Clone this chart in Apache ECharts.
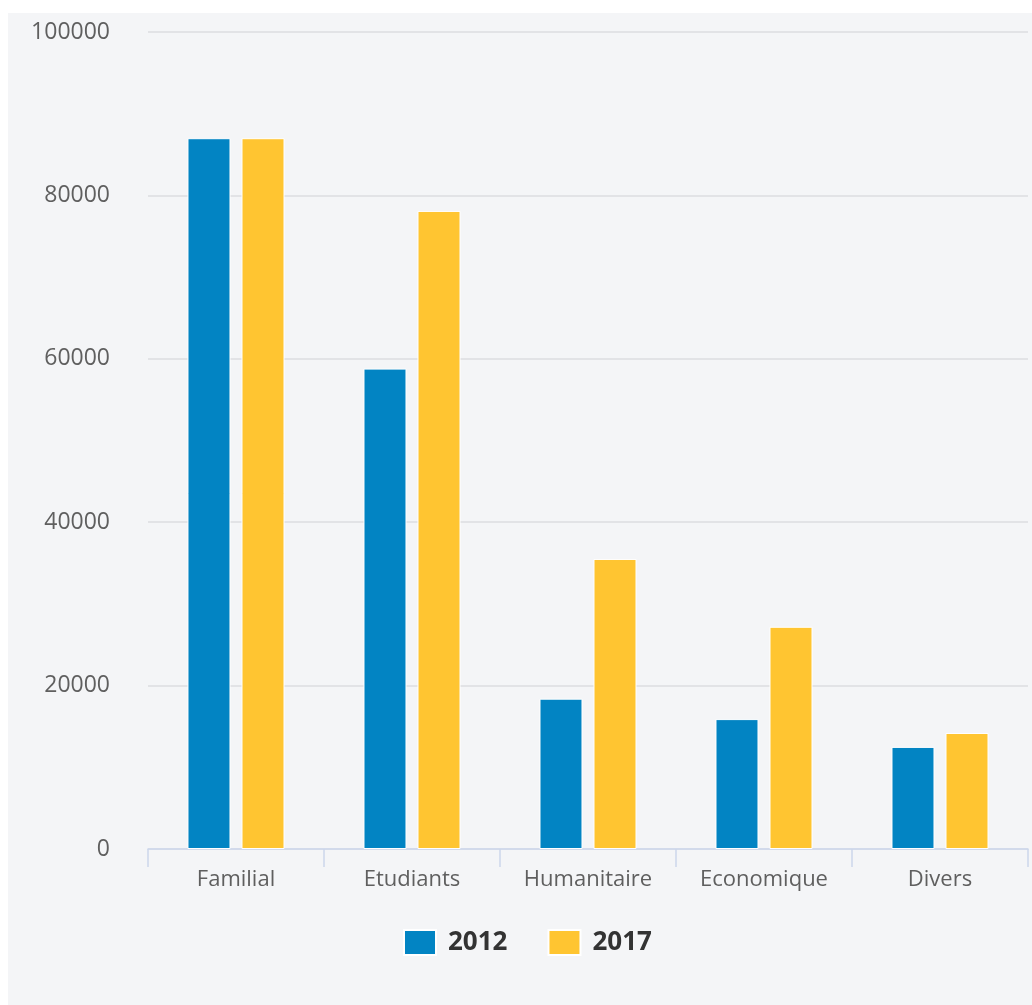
<!DOCTYPE html>
<html>
<head>
<meta charset="utf-8">
<script src="https://cdn.jsdelivr.net/npm/echarts@6/dist/echarts.min.js"></script>
<style>
html,body{margin:0;padding:0;background:#ffffff;}
#panel{position:absolute;left:8px;top:13px;width:1024px;height:992px;background:#f4f5f7;}
#chart{position:absolute;left:0;top:0;width:1032px;height:1005px;}
</style>
</head>
<body>
<div id="panel"></div>
<div id="chart"></div>
<script>
const categories = ['Familial', 'Etudiants', 'Humanitaire', 'Economique', 'Divers'];
const series2012 = [87000, 58800, 18400, 15900, 12500];
const series2017 = [87000, 78100, 35500, 27200, 14200];
const yTicks = { min: 0, max: 100000, interval: 20000 };

const chart = echarts.init(document.getElementById('chart'), null, { renderer: 'canvas' });
const font = '"Open Sans", "DejaVu Sans", sans-serif';
chart.setOption({
  backgroundColor: 'transparent',
  animation: false,
  grid: { left: 148, right: 4, top: 32, bottom: 156, containLabel: false },
  legend: {
    data: ['2012', '2017'],
    top: 929,
    left: 403,
    padding: 0,
    icon: 'rect',
    itemWidth: 32,
    itemHeight: 25,
    itemGap: 40,
    textStyle: { fontFamily: font, fontSize: 26, fontWeight: 'bold', color: '#333333', padding: [0, 0, 0, 7] }
  },
  xAxis: {
    type: 'category',
    data: categories,
    axisLine: { lineStyle: { color: '#ccd6eb', width: 1.5 } },
    axisTick: { show: true, length: 18, lineStyle: { color: '#ccd6eb', width: 1.5 }, alignWithLabel: false },
    axisLabel: { fontFamily: font, fontSize: 22, color: '#5f5f5f', margin: 20 },
    splitLine: { show: false }
  },
  yAxis: {
    type: 'value',
    min: yTicks.min,
    max: yTicks.max,
    interval: yTicks.interval,
    axisLine: { show: false },
    axisTick: { show: false },
    axisLabel: { fontFamily: font, fontSize: 23, color: '#5f5f5f', margin: 38, formatter: v => String(v) },
    splitLine: { lineStyle: { color: '#dcdde0', width: 1.5 } }
  },
  series: [
    {
      name: '2012', type: 'bar', data: series2012,
      barWidth: 43, barGap: '25.6%',
      itemStyle: { color: '#0284c3', borderColor: '#ffffff', borderWidth: 1 }
    },
    {
      name: '2017', type: 'bar', data: series2017,
      barWidth: 43, barGap: '25.6%',
      itemStyle: { color: '#ffc531', borderColor: '#ffffff', borderWidth: 1 }
    }
  ]
});
</script>
</body>
</html>
